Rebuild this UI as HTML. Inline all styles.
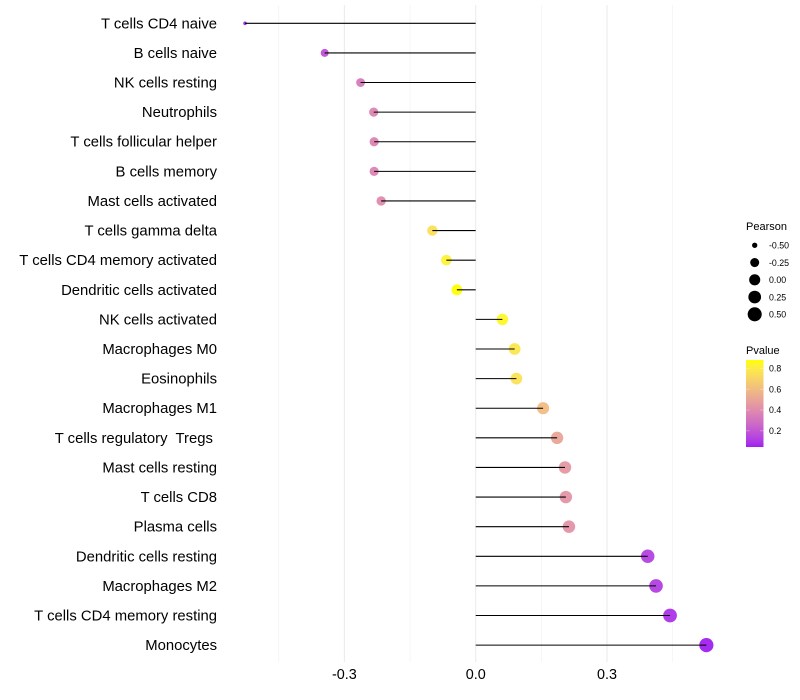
<!DOCTYPE html>
<html>
<head>
<meta charset="utf-8">
<title>Immune cell correlation lollipop chart</title>
<style>
html,body{margin:0;padding:0;background:#fff;width:800px;height:700px;overflow:hidden}
svg{display:block;font-family:"Liberation Sans",Arial,sans-serif}
</style>
</head>
<body>
<svg id="chart" width="800" height="700" viewBox="0 0 800 700" xmlns="http://www.w3.org/2000/svg">
  <rect width="800" height="700" fill="#fff"/>
  <defs>
    <linearGradient id="pvalue-gradient" x1="0" y1="1" x2="0" y2="0"></linearGradient>
  </defs>
  <g id="grid"></g>
  <g id="points"></g>
  <g id="stems"></g>
  <g id="ylabels"></g>
  <g id="xlabels"></g>
  <g id="size-legend">
    <text x="746" y="230" font-size="11" fill="#000">Pearson</text>
  </g>
  <g id="color-legend">
    <text x="746" y="354" font-size="11" fill="#000">Pvalue</text>
    <rect x="746" y="360" width="17.5" height="87" fill="url(#pvalue-gradient)"/>
  </g>
</svg>
<script>
const categories = ["T cells CD4 naive","B cells naive","NK cells resting","Neutrophils","T cells follicular helper","B cells memory","Mast cells activated","T cells gamma delta","T cells CD4 memory activated","Dendritic cells activated","NK cells activated","Macrophages M0","Eosinophils","Macrophages M1","T cells regulatory  Tregs ","Mast cells resting","T cells CD8","Plasma cells","Dendritic cells resting","Macrophages M2","T cells CD4 memory resting","Monocytes"];
const pearsonValues = [-0.527,-0.345,-0.263,-0.233,-0.232,-0.232,-0.216,-0.099,-0.067,-0.043,0.061,0.089,0.093,0.154,0.186,0.204,0.206,0.213,0.393,0.412,0.444,0.527];
const pValues = [0.05,0.18,0.33,0.37,0.37,0.37,0.40,0.75,0.83,0.88,0.85,0.78,0.76,0.60,0.50,0.45,0.44,0.43,0.13,0.12,0.09,0.045];
const xTickValues = [-0.3,0.0,0.3];
const xTickLabels = ["-0.3","0.0","0.3"];
const xMinorGrid = [-0.45,-0.15,0.15,0.45];
const sizeLegendValues = [-0.5,-0.25,0,0.25,0.5];
const sizeLegendLabels = ["-0.50","-0.25","0.00","0.25","0.50"];
const colorLegendValues = [0.2,0.4,0.6,0.8];
const colorLegendLabels = ["0.2","0.4","0.6","0.8"];

const NS = 'http://www.w3.org/2000/svg';
function mk(tag, parent, attrs, text) {
  const el = document.createElementNS(NS, tag);
  for (const k in attrs) el.setAttribute(k, attrs[k]);
  if (text !== undefined) el.textContent = text;
  parent.appendChild(el);
  return el;
}
const xScale = v => 475.7 + 437.7 * v;
const yScale = i => 23.3 + 29.61 * i;
const sizeScale = v => {
  const t = Math.max(0, (v + 0.527) / 1.054);
  return 1.8 + 5.3 * Math.sqrt(t);
};
const P_MIN = 0.045, P_MAX = 0.88;

function rgb2lab(c) {
  const f = u => { u /= 255; return u > 0.04045 ? Math.pow((u + 0.055) / 1.055, 2.4) : u / 12.92; };
  const r = f(c[0]), g = f(c[1]), b = f(c[2]);
  const X = (0.4124 * r + 0.3576 * g + 0.1805 * b) / 0.95047;
  const Y = 0.2126 * r + 0.7152 * g + 0.0722 * b;
  const Z = (0.0193 * r + 0.1192 * g + 0.9505 * b) / 1.08883;
  const h = t => t > 0.008856 ? Math.cbrt(t) : 7.787 * t + 16 / 116;
  return [116 * h(Y) - 16, 500 * (h(X) - h(Y)), 200 * (h(Y) - h(Z))];
}
function lab2rgb(l) {
  const fy = (l[0] + 16) / 116, fx = l[1] / 500 + fy, fz = fy - l[2] / 200;
  const h = t => t * t * t > 0.008856 ? t * t * t : (t - 16 / 116) / 7.787;
  const X = h(fx) * 0.95047, Y = h(fy), Z = h(fz) * 1.08883;
  const g = u => {
    u = u > 0.0031308 ? 1.055 * Math.pow(u, 1 / 2.4) - 0.055 : 12.92 * u;
    return Math.round(Math.min(1, Math.max(0, u)) * 255);
  };
  return [g(3.2406 * X - 1.5372 * Y - 0.4986 * Z), g(-0.9689 * X + 1.8758 * Y + 0.0415 * Z), g(0.0557 * X - 0.204 * Y + 1.057 * Z)];
}
const labLow = rgb2lab([160, 32, 240]);
const labHigh = rgb2lab([255, 255, 0]);
function colorScale(p) {
  const t = Math.min(1, Math.max(0, (p - P_MIN) / (P_MAX - P_MIN)));
  const c = lab2rgb(labLow.map((a, i) => a + (labHigh[i] - a) * t));
  return 'rgb(' + c.join(',') + ')';
}

const gridG = document.getElementById('grid');
xMinorGrid.forEach(v => {
  const l = mk('line', gridG, {x1: xScale(v), x2: xScale(v), y1: 5, y2: 662, stroke: '#f0f0f0', 'stroke-width': 0.6});
  
  
});
xTickValues.forEach(v => {
  const l = mk('line', gridG, {x1: xScale(v), x2: xScale(v), y1: 5, y2: 662, stroke: '#ebebeb', 'stroke-width': 1.07});
  
  
});

const pointsG = document.getElementById('points');
const stemsG = document.getElementById('stems');
const ylabG = document.getElementById('ylabels');
categories.forEach((name, i) => {
  const y = yScale(i), v = pearsonValues[i];
  const c = mk('circle', pointsG, {cx: xScale(v), cy: y, r: sizeScale(v), fill: colorScale(pValues[i]), 'fill-opacity': 0.95});
  
  
  const s = mk('line', stemsG, {x1: xScale(0), x2: xScale(v), y1: y, y2: y, stroke: '#000', 'stroke-width': 1.07});
  
  
  const t = mk('text', ylabG, {x: 217, y: y + 5, 'text-anchor': 'end', 'font-size': 14.85, fill: '#000'}, name);
  t.style.whiteSpace = 'pre';
  
  
});

const xlabG = document.getElementById('xlabels');
xTickValues.forEach((v, i) => {
  const t = mk('text', xlabG, {x: xScale(v), y: 679, 'text-anchor': 'middle', 'font-size': 14.4, fill: '#000'}, xTickLabels[i]);
  
  
});

const sizeG = document.getElementById('size-legend');
sizeLegendValues.forEach((v, i) => {
  const y = 245.3 + 17.25 * i;
  const c = mk('circle', sizeG, {cx: 754.7, cy: y, r: sizeScale(v), fill: '#000'});
  
  
  const t = mk('text', sizeG, {x: 769, y: y + 3.2, 'font-size': 8.8, fill: '#000'}, sizeLegendLabels[i]);
  
  
});

const grad = document.getElementById('pvalue-gradient');
for (let k = 0; k <= 20; k++) {
  const p = P_MIN + (P_MAX - P_MIN) * k / 20;
  mk('stop', grad, {offset: (k * 5) + '%', 'stop-color': colorScale(p)});
}
const colorG = document.getElementById('color-legend');
const barY = p => 447 - (p - P_MIN) / (P_MAX - P_MIN) * 87;
colorLegendValues.forEach((p, i) => {
  const y = barY(p);
  const a = mk('line', colorG, {x1: 746, x2: 749.5, y1: y, y2: y, stroke: '#fff', 'stroke-opacity': 0.5, 'stroke-width': 0.6});
  
  
  const b = mk('line', colorG, {x1: 760, x2: 763.5, y1: y, y2: y, stroke: '#fff', 'stroke-opacity': 0.5, 'stroke-width': 0.6});
  
  
  const t = mk('text', colorG, {x: 769, y: y + 3.2, 'font-size': 8.8, fill: '#000'}, colorLegendLabels[i]);
  
  
});
</script>
</body>
</html>
